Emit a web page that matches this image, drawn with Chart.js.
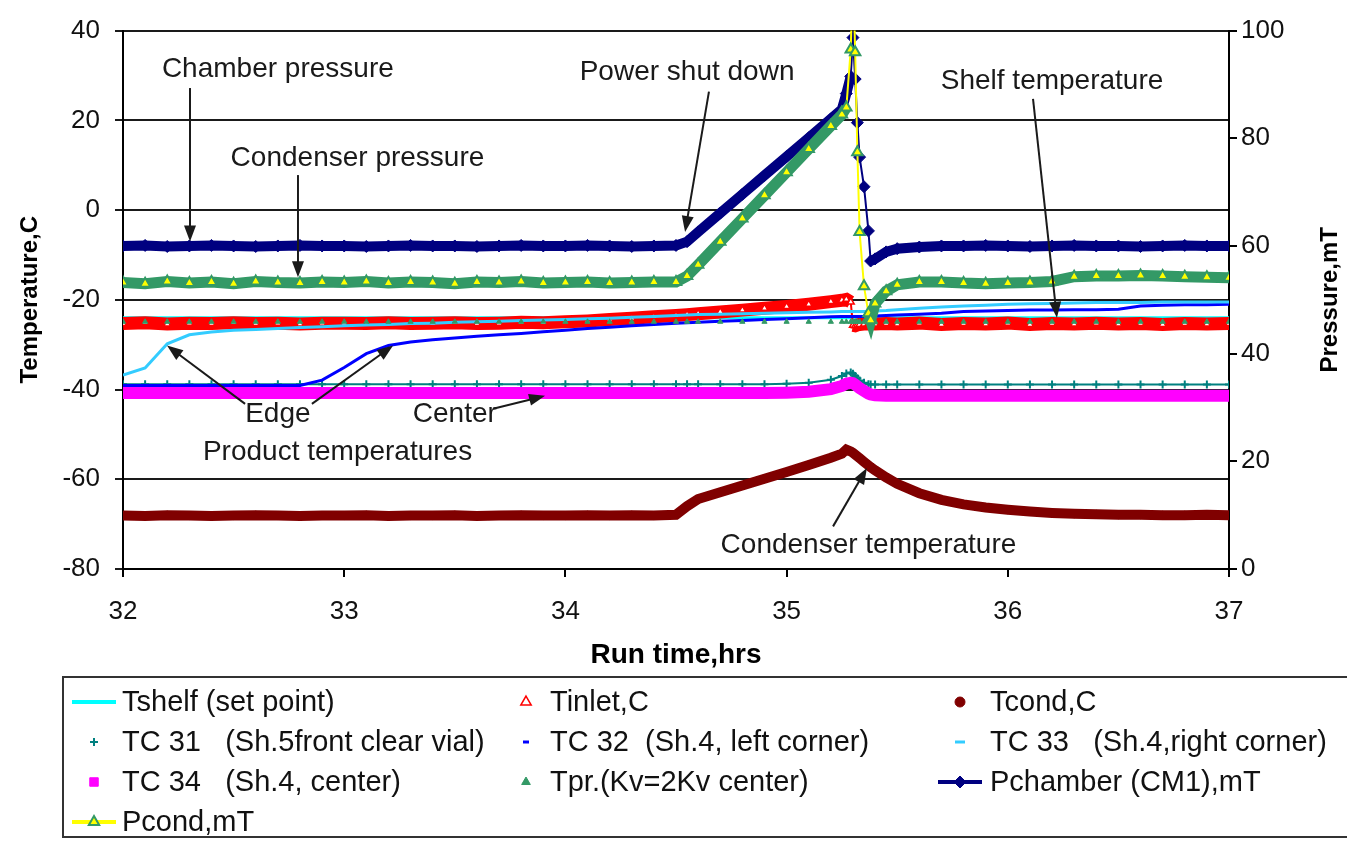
<!DOCTYPE html>
<html>
<head>
<meta charset="utf-8">
<title>Run time temperatures and pressures</title>
<script src="https://cdn.jsdelivr.net/npm/chart.js@4.4.0/dist/chart.umd.min.js"></script>
<style>
  html, body { margin: 0; padding: 0; background: #fff; overflow: hidden; }
  canvas { display: block; }
</style>
</head>
<body>
<canvas id="runChart" width="1347" height="842"></canvas>
<script>
// sample times, hrs (finer steps around the power shut down)
const runTime = [
  32.0, 32.1, 32.2, 32.3, 32.4, 32.5, 32.6, 32.7, 32.8, 32.9,
  33.0, 33.1, 33.2, 33.3, 33.4, 33.5, 33.6, 33.7, 33.8, 33.9,
  34.0, 34.1, 34.2, 34.3, 34.4, 34.5, 34.55, 34.6, 34.7, 34.8, 34.9,
  35.0, 35.1, 35.2, 35.25, 35.27, 35.29, 35.3, 35.31, 35.32, 35.33, 35.35, 35.37, 35.38, 35.4, 35.45,
  35.5, 35.6, 35.7, 35.8, 35.9, 36.0, 36.1, 36.2, 36.3, 36.4, 36.5, 36.6, 36.7, 36.8, 36.9, 37.0
];

// temperatures, C
const tShelf = [
  -24.0, -24.0, -24.0, -24.0, -24.0, -24.0, -24.0, -24.0, -24.0, -24.0,
  -24.0, -24.0, -24.0, -24.0, -24.0, -24.0, -24.0, -24.0, -24.0, -24.0,
  -24.0, -24.0, -24.0, -24.0, -24.0, -24.0, -24.0, -24.0, -24.0, -24.0, -24.0,
  -24.0, -24.0, -24.0, -24.0, -24.0, -24.0, -24.0, -24.0, -24.0, -24.0, -24.0, -24.0, -24.0, -24.0, -24.0,
  -24.0, -24.0, -24.0, -24.0, -24.0, -24.0, -24.0, -24.0, -24.0, -24.0, -24.0, -24.0, -24.0, -24.0, -24.0, -24.0
];
const tInlet = [
  -25.3, -25.1, -25.4, -25.2, -25.3, -25.1, -25.3, -25.2, -25.4, -25.2,
  -25.2, -25.3, -25.1, -25.3, -25.2, -25.1, -25.3, -25.2, -25.0, -25.1,
  -24.9, -24.7, -24.4, -24.1, -23.8, -23.5, -23.3, -23.1, -22.7, -22.3, -21.9,
  -21.5, -21.0, -20.4, -20.1, -19.9, -20.5, -25.7, -25.8, -25.6, -25.5, -25.4, -25.4, -25.3, -25.4, -25.3,
  -25.4, -25.2, -25.5, -25.3, -25.4, -25.2, -25.5, -25.3, -25.4, -25.2, -25.4, -25.3, -25.5, -25.3, -25.4, -25.3
];
const tCond = [
  -68.1, -68.2, -68.0, -68.1, -68.2, -68.1, -68.0, -68.1, -68.2, -68.1,
  -68.1, -68.0, -68.2, -68.1, -68.1, -68.0, -68.2, -68.1, -68.0, -68.1,
  -68.1, -68.0, -68.1, -68.0, -68.1, -67.9, -66.0, -64.4, -62.9, -61.4, -59.9,
  -58.4, -56.8, -55.2, -54.3, -53.4, -53.8, -54.1, -54.5, -54.9, -55.3, -56.1, -56.9, -57.3, -58.0, -59.6,
  -61.0, -63.1, -64.6, -65.6, -66.3, -66.8, -67.2, -67.5, -67.7, -67.8, -67.9, -67.9, -68.0, -68.0, -67.9, -68.0
];
const tc31 = [
  -38.8, -38.8, -38.8, -38.8, -38.8, -38.8, -38.8, -38.8, -38.8, -38.8,
  -38.8, -38.8, -38.8, -38.8, -38.8, -38.8, -38.8, -38.8, -38.8, -38.8,
  -38.8, -38.8, -38.8, -38.8, -38.8, -38.8, -38.8, -38.8, -38.8, -38.8, -38.8,
  -38.7, -38.5, -37.8, -37.0, -36.4, -36.2, -36.5, -37.0, -37.5, -38.0, -38.5, -38.8, -38.9, -38.9, -38.9,
  -38.9, -38.9, -38.9, -38.9, -38.9, -38.9, -38.9, -38.9, -38.9, -38.9, -38.9, -38.9, -38.9, -38.9, -38.9, -38.9
];
const tc32 = [
  -39.1, -39.1, -39.1, -39.1, -39.1, -39.1, -39.1, -39.1, -39.1, -37.9,
  -35.1, -32.0, -30.2, -29.4, -28.9, -28.5, -28.1, -27.8, -27.5, -27.1,
  -26.8, -26.4, -26.1, -25.8, -25.5, -25.2, -25.1, -25.0, -24.8, -24.6, -24.4,
  -24.2, -24.0, -23.8, -23.7, -23.7, -23.7, -23.7, -23.7, -23.7, -23.7, -23.7, -23.6, -23.6, -23.6, -23.5,
  -23.4, -23.2, -23.0, -22.6, -22.5, -22.4, -22.3, -22.3, -22.2, -22.2, -22.1, -21.4, -21.2, -21.1, -21.1, -21.0
];
const tc33 = [
  -36.8, -35.2, -29.8, -27.8, -27.2, -26.8, -26.6, -26.4, -26.2, -26.0,
  -25.8, -25.6, -25.5, -25.3, -25.2, -25.0, -24.9, -24.8, -24.6, -24.5,
  -24.4, -24.2, -24.1, -23.9, -23.7, -23.5, -23.4, -23.3, -23.2, -23.1, -23.0,
  -22.9, -22.8, -22.7, -22.6, -22.6, -22.6, -22.6, -22.6, -22.6, -22.6, -22.6, -22.6, -22.5, -22.5, -22.4,
  -22.2, -21.9, -21.6, -21.4, -21.2, -21.0, -20.9, -20.8, -20.7, -20.6, -20.6, -20.6, -20.5, -20.5, -20.5, -20.5
];
const tc34 = [
  -40.8, -40.8, -40.8, -40.8, -40.8, -40.8, -40.8, -40.8, -40.8, -40.8,
  -40.8, -40.8, -40.8, -40.8, -40.8, -40.8, -40.8, -40.8, -40.8, -40.8,
  -40.8, -40.8, -40.8, -40.8, -40.8, -40.8, -40.8, -40.8, -40.8, -40.8, -40.8,
  -40.7, -40.5, -39.9, -39.2, -38.7, -38.5, -38.6, -38.9, -39.3, -39.7, -40.3, -40.9, -41.1, -41.3, -41.4,
  -41.4, -41.4, -41.4, -41.4, -41.4, -41.4, -41.4, -41.4, -41.4, -41.4, -41.4, -41.4, -41.4, -41.4, -41.4, -41.4
];
const tPr = [
  -24.9, -24.9, -24.9, -24.9, -24.9, -24.9, -24.9, -24.9, -24.9, -24.9,
  -24.9, -24.9, -24.9, -24.9, -24.9, -24.9, -24.9, -24.9, -24.9, -24.9,
  -24.9, -24.9, -24.9, -24.9, -24.9, -24.9, -24.9, -24.9, -24.9, -24.9, -24.9,
  -24.9, -24.9, -24.9, -24.9, -24.9, -24.9, -24.9, -24.9, -24.9, -24.9, -24.9, -24.9, -24.9, -24.9, -24.9,
  -24.9, -24.9, -24.9, -24.9, -24.9, -24.9, -24.9, -24.9, -24.9, -24.9, -24.9, -24.9, -24.9, -24.9, -24.9, -24.9
];

// pressures, mT
const pChamber = [
  60.0, 60.1, 59.9, 60.0, 60.1, 60.0, 59.9, 60.0, 60.1, 60.0,
  60.0, 59.9, 60.0, 60.1, 60.0, 60.0, 59.9, 60.0, 60.1, 60.0,
  60.0, 60.1, 60.0, 59.9, 60.0, 60.1, 60.8, 62.6, 66.1, 69.6, 73.1,
  76.6, 80.1, 83.6, 85.4, 88.3, 91.5, 98.7, 91.0, 82.9, 76.5, 71.0, 62.8, 57.2, 57.6, 58.9,
  59.5, 59.8, 60.0, 60.0, 60.1, 60.0, 59.9, 60.0, 60.1, 60.0, 60.0, 59.9, 60.0, 60.1, 60.0, 60.0
];
const pCond = [
  53.2, 53.0, 53.4, 53.1, 53.3, 53.0, 53.4, 53.2, 53.1, 53.3,
  53.2, 53.4, 53.1, 53.3, 53.2, 53.0, 53.3, 53.2, 53.4, 53.1,
  53.2, 53.3, 53.1, 53.2, 53.3, 53.3, 54.4, 56.5, 60.8, 65.1, 69.4,
  73.7, 78.0, 82.3, 84.4, 85.7, 96.5, 112.0, 96.0, 77.4, 62.6, 52.5, 47.5, 46.2, 49.3, 51.6,
  52.8, 53.3, 53.3, 53.1, 53.0, 53.1, 53.2, 53.4, 54.3, 54.4, 54.4, 54.5, 54.4, 54.3, 54.2, 54.1
];

// axis ticks
const timeTicks = [32, 33, 34, 35, 36, 37];
const tempTicks = [-80, -60, -40, -20, 0, 20, 40];
const pressTicks = [0, 20, 40, 60, 80, 100];

// callouts, placed in run time / temperature units
const notes = [
  { text: 'Chamber pressure', x: 32.70, y: 31.4 },
  { text: 'Condenser pressure', x: 33.06, y: 11.6 },
  { text: 'Power shut down', x: 34.55, y: 30.8 },
  { text: 'Shelf temperature', x: 36.20, y: 28.8 },
  { text: 'Edge', x: 32.70, y: -45.6 },
  { text: 'Center', x: 33.50, y: -45.6 },
  { text: 'Product temperatures', x: 32.97, y: -54.0 },
  { text: 'Condenser temperature', x: 35.37, y: -74.7 }
];
const arrows = [
  { from: [32.303, 27.2], to: [32.303, -7.0] },
  { from: [32.791, 7.8], to: [32.791, -15.0] },
  { from: [34.649, 26.4], to: [34.541, -4.9] },
  { from: [36.114, 24.8], to: [36.222, -24.0] },
  { from: [32.552, -43.2], to: [32.199, -30.2] },
  { from: [32.854, -43.2], to: [33.221, -30.2] },
  { from: [33.673, -44.3], to: [33.908, -41.4] },
  { from: [35.21, -70.5], to: [35.363, -57.5] }
];

const FONT = '"Liberation Sans", Arial, Helvetica, sans-serif';
Chart.defaults.font.family = FONT;
Chart.defaults.color = '#111';

function series(values) {
  return values.map((v, i) => ({ x: runTime[i], y: v }));
}

// dense logger markers read as a thick band, except on the near-vertical jumps
function isSteep(ctx) {
  const dx = Math.abs(ctx.p1.x - ctx.p0.x);
  const dy = Math.abs(ctx.p1.y - ctx.p0.y);
  return dy > 18 && dy > 2.5 * dx;
}
function band(thick, thin) {
  return ctx => (isSteep(ctx) ? thin : thick);
}

const datasets = [
  {
    label: 'Tshelf (set point)', data: series(tShelf), yAxisID: 'y',
    borderColor: '#00FFFF', borderWidth: 3, pointRadius: 0,
    legendLine: true, legendRadius: 0
  },
  {
    label: 'Tinlet,C', data: series(tInlet), yAxisID: 'y',
    borderColor: '#FF0000', borderWidth: 13, segment: { borderWidth: band(13, 2) },
    pointStyle: 'triangle', pointRadius: 4, pointBackgroundColor: '#FFFFFF',
    pointBorderColor: '#FF0000', pointBorderWidth: 1.5,
    legendLine: false, legendRadius: 6
  },
  {
    label: 'Tcond,C', data: series(tCond), yAxisID: 'y',
    borderColor: '#800000', borderWidth: 10,
    pointStyle: 'circle', pointRadius: 4, pointBackgroundColor: '#800000',
    pointBorderColor: '#800000', pointBorderWidth: 1,
    legendLine: false, legendRadius: 5
  },
  {
    label: 'TC 31   (Sh.5front clear vial)', data: series(tc31), yAxisID: 'y',
    borderColor: '#008080', borderWidth: 2,
    pointStyle: 'cross', pointRadius: 4, pointBackgroundColor: '#008080',
    pointBorderColor: '#008080', pointBorderWidth: 2,
    legendLine: false, legendRadius: 4
  },
  {
    label: 'TC 32  (Sh.4, left corner)', data: series(tc32), yAxisID: 'y',
    borderColor: '#0000FF', borderWidth: 3,
    pointStyle: 'line', pointRadius: 0, pointBackgroundColor: '#0000FF',
    pointBorderColor: '#0000FF', pointBorderWidth: 3,
    legendLine: false, legendRadius: 3
  },
  {
    label: 'TC 33   (Sh.4,right corner)', data: series(tc33), yAxisID: 'y',
    borderColor: '#33CCFF', borderWidth: 3,
    pointStyle: 'line', pointRadius: 0, pointBackgroundColor: '#33CCFF',
    pointBorderColor: '#33CCFF', pointBorderWidth: 3,
    legendLine: false, legendRadius: 5
  },
  {
    label: 'TC 34   (Sh.4, center)', data: series(tc34), yAxisID: 'y',
    borderColor: '#FF00FF', borderWidth: 12,
    pointStyle: 'rect', pointRadius: 4, pointBackgroundColor: '#FF00FF',
    pointBorderColor: '#FF00FF', pointBorderWidth: 1,
    legendLine: false, legendRadius: 6
  },
  {
    label: 'Tpr.(Kv=2Kv center)', data: series(tPr), yAxisID: 'y',
    borderColor: '#339966', showLine: false,
    pointStyle: 'triangle', pointRadius: 3, pointBackgroundColor: '#339966',
    pointBorderColor: '#339966', pointBorderWidth: 1,
    legendLine: false, legendRadius: 5
  },
  {
    label: 'Pchamber (CM1),mT', data: series(pChamber), yAxisID: 'y1',
    borderColor: '#000080', borderWidth: 10, segment: { borderWidth: band(10, 2) },
    pointStyle: 'rectRot', pointRadius: 6, pointBackgroundColor: '#000080',
    pointBorderColor: '#000080', pointBorderWidth: 1,
    legendLine: true, legendRadius: 6
  },
  {
    label: 'Pcond,mT', data: series(pCond), yAxisID: 'y1',
    borderColor: '#FFFF00', borderWidth: 2,
    segment: { borderWidth: band(11, 2), borderColor: band('#339966', '#FFFF00') },
    pointStyle: 'triangle', pointRadius: 6, pointBackgroundColor: '#FFFF00',
    pointBorderColor: '#339966', pointBorderWidth: 2,
    legendLine: true, legendRadius: 6
  }
];
// later series sit on top
datasets.forEach((ds, i) => { ds.order = datasets.length - i; });

const calloutPlugin = {
  id: 'callouts',
  afterDatasetsDraw(chart) {
    const { ctx, scales: { x, y }, chartArea } = chart;
    ctx.save();
    ctx.fillStyle = '#1a1a1a';
    ctx.strokeStyle = '#1a1a1a';
    ctx.lineWidth = 2;
    ctx.font = '28px ' + FONT;
    ctx.textAlign = 'center';
    ctx.textBaseline = 'middle';
    notes.forEach(n => ctx.fillText(n.text, x.getPixelForValue(n.x), y.getPixelForValue(n.y)));

    arrows.forEach(a => {
      const x0 = x.getPixelForValue(a.from[0]), y0 = y.getPixelForValue(a.from[1]);
      const x1 = x.getPixelForValue(a.to[0]), y1 = y.getPixelForValue(a.to[1]);
      const ang = Math.atan2(y1 - y0, x1 - x0);
      const head = 16, half = 6;
      ctx.beginPath();
      ctx.moveTo(x0, y0);
      ctx.lineTo(x1 - Math.cos(ang) * head * 0.8, y1 - Math.sin(ang) * head * 0.8);
      ctx.stroke();
      ctx.beginPath();
      ctx.moveTo(x1, y1);
      ctx.lineTo(x1 - Math.cos(ang) * head - Math.sin(ang) * half, y1 - Math.sin(ang) * head + Math.cos(ang) * half);
      ctx.lineTo(x1 - Math.cos(ang) * head + Math.sin(ang) * half, y1 - Math.sin(ang) * head - Math.cos(ang) * half);
      ctx.closePath();
      ctx.fill();
    });

    // secondary axis title, read bottom to top
    ctx.fillStyle = '#000';
    ctx.font = 'bold 24px ' + FONT;
    ctx.translate(chart.width - 17, (chartArea.top + chartArea.bottom) / 2);
    ctx.rotate(-Math.PI / 2);
    ctx.fillText('Pressure,mT', 0, 0);
    ctx.restore();
  }
};

// three-column legend in a box under the axis title (box runs off the right edge)
const legendBoxPlugin = {
  id: 'legendBox',
  afterDraw(chart) {
    const { ctx } = chart;
    const cols = [{ mx: 94, tx: 122 }, { mx: 526, tx: 550 }, { mx: 960, tx: 990 }];
    const top = 677, rowGap = 40;
    ctx.save();
    ctx.strokeStyle = '#333';
    ctx.lineWidth = 2;
    ctx.strokeRect(63, top, 1320, 160);
    ctx.font = '29px ' + FONT;
    ctx.textAlign = 'left';
    ctx.textBaseline = 'middle';
    chart.data.datasets.forEach((ds, i) => {
      const c = cols[i % 3];
      const yy = top + 25 + Math.floor(i / 3) * rowGap;
      if (ds.legendLine) {
        ctx.strokeStyle = ds.borderColor;
        ctx.lineWidth = 4;
        ctx.beginPath();
        ctx.moveTo(c.mx - 22, yy);
        ctx.lineTo(c.mx + 22, yy);
        ctx.stroke();
      }
      if (ds.legendRadius > 0) {
        ctx.fillStyle = ds.pointBackgroundColor;
        ctx.strokeStyle = ds.pointBorderColor;
        ctx.lineWidth = ds.pointBorderWidth;
        Chart.helpers.drawPoint(ctx, {
          pointStyle: ds.pointStyle, radius: ds.legendRadius, rotation: 0,
          borderWidth: ds.pointBorderWidth
        }, c.mx, yy);
      }
      ctx.fillStyle = '#111';
      ctx.fillText(ds.label, c.tx, yy + 1);
    });
    ctx.restore();
  }
};

const tickFont = { family: FONT, size: 26 };

new Chart(document.getElementById('runChart'), {
  type: 'line',
  data: { datasets },
  options: {
    responsive: false,
    animation: false,
    events: [],
    layout: { padding: { top: 24, bottom: 165, left: 0, right: 0 } },
    plugins: { legend: { display: false }, tooltip: { enabled: false } },
    scales: {
      x: {
        type: 'linear', min: 32, max: 37,
        afterBuildTicks: s => { s.ticks = timeTicks.map(v => ({ value: v })); },
        ticks: { font: tickFont, color: '#111', padding: 19 },
        grid: { drawOnChartArea: false, tickLength: 8, color: '#000', lineWidth: 2 },
        border: { color: '#000', width: 2 },
        title: {
          display: true, text: 'Run time,hrs', color: '#000',
          font: { family: FONT, size: 28, weight: 'bold' }, padding: { top: 0, bottom: 5 }
        },
        afterFit: s => { s.height = 108; }
      },
      y: {
        position: 'left', min: -80, max: 40,
        afterBuildTicks: s => { s.ticks = tempTicks.map(v => ({ value: v })); },
        ticks: { font: tickFont, color: '#111', padding: 15 },
        grid: { color: '#1a1a1a', lineWidth: 2, tickLength: 8 },
        border: { color: '#000', width: 2 },
        title: {
          display: true, text: 'Temperature,C', color: '#000',
          font: { family: FONT, size: 24, weight: 'bold' }, padding: { top: 16, bottom: 0 }
        },
        afterFit: s => { s.width = 123; }
      },
      y1: {
        position: 'right', min: 0, max: 100,
        afterBuildTicks: s => { s.ticks = pressTicks.map(v => ({ value: v })); },
        ticks: { font: tickFont, color: '#111', padding: 4 },
        grid: { drawOnChartArea: false, tickLength: 8, color: '#000', lineWidth: 2 },
        border: { color: '#000', width: 2 },
        afterFit: s => { s.width = 118; }
      }
    }
  },
  plugins: [calloutPlugin, legendBoxPlugin]
});
</script>
</body>
</html>
